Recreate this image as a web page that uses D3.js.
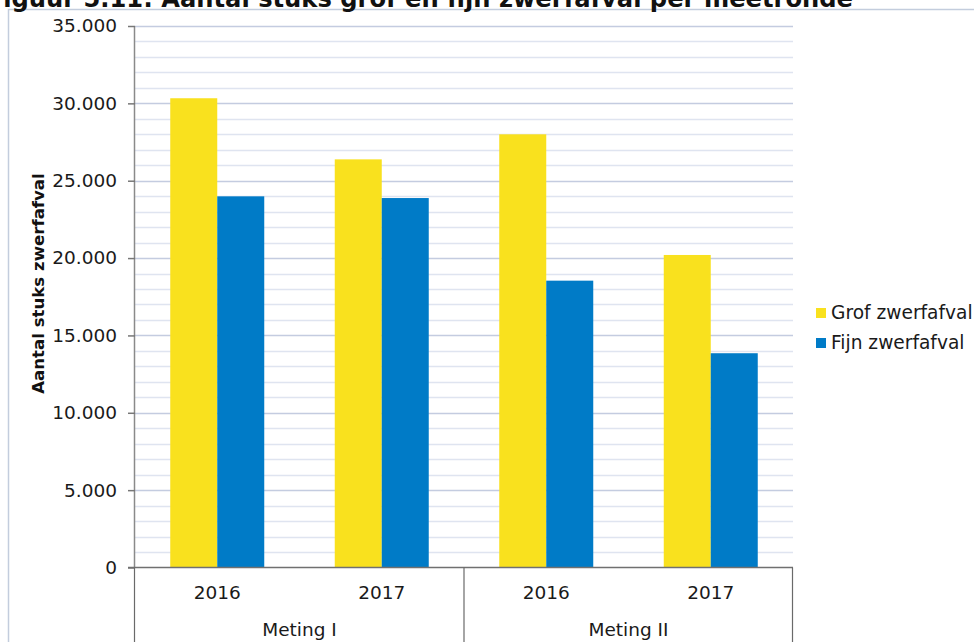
<!DOCTYPE html>
<html><head><meta charset="utf-8">
<script src="https://cdn.jsdelivr.net/npm/d3@7"></script>
<style>html,body{margin:0;padding:0;background:#fff;}svg{display:block;}</style>
</head><body>
<svg id="c" width="974" height="642"></svg>
<script>
const groups = ["Meting I", "Meting II"];
const years = ["2016", "2017"];
const categories = ["Meting I|2016", "Meting I|2017", "Meting II|2016", "Meting II|2017"];
const seriesNames = ["Grof zwerfafval", "Fijn zwerfafval"];
const grof = [30330, 26380, 28000, 20200];
const fijn = [23990, 23880, 18540, 13850];
const yTicks = [0, 5000, 10000, 15000, 20000, 25000, 30000, 35000];
const colors = ["#F9E11E", "#007BC7"];
const title = "Figuur 5.11: Aantal stuks grof en fijn zwerfafval per meetronde";
const yLabel = "Aantal stuks zwerfafval";

const svg = d3.select("#c");
const font = "'DejaVu Sans', Verdana, sans-serif";
const L = 135, R = 793, T = 26, B = 567.5;

// outer frame
svg.append("rect").attr("x", 8.5).attr("y", 9.5).attr("width", 1000).attr("height", 700)
  .attr("fill", "none").attr("stroke", "#c3cddd").attr("stroke-width", 1.5);

// title (cut off at top in reference)
svg.append("text").attr("x", 853).attr("y", 6.5).attr("text-anchor", "end")
  .attr("font-family", font).attr("font-weight", "bold").attr("font-size", 24.2)
  .attr("fill", "#111").text(title);

const y = d3.scaleLinear().domain([0, 35000]).range([B, T]);
const x0 = d3.scaleBand().domain(categories).range([L, R]).padding(0);
const x1 = d3.scaleBand().domain(seriesNames).range([0, x0.bandwidth()]).paddingInner(0).paddingOuter(0.75);

// gridlines
const minor = d3.range(1000, 35001, 1000);
svg.append("g").selectAll("line").data(minor).join("line")
  .attr("x1", L).attr("x2", R).attr("y1", d => Math.round(y(d)) + 0.5).attr("y2", d => Math.round(y(d)) + 0.5)
  .attr("stroke", d => d % 5000 === 0 ? "#c4cce0" : "#dfe4f0").attr("stroke-width", 1.5);

// bars
const data = categories.map((c, i) => ({c, vals: [grof[i], fijn[i]]}));
const g = svg.append("g");
data.forEach(d => {
  seriesNames.forEach((s, j) => {
    g.append("rect").attr("x", x0(d.c) + x1(s)).attr("width", x1.bandwidth())
      .attr("y", y(d.vals[j])).attr("height", B - y(d.vals[j])).attr("fill", colors[j]);
  });
});

// y axis
const yAxis = d3.axisLeft(y).tickValues(yTicks).tickSize(7).tickPadding(11)
  .tickFormat(d => d3.format(",")(d).replace(/,/g, "."));
const ya = svg.append("g").attr("transform", `translate(${L},0)`).call(yAxis);
ya.select(".domain").attr("stroke", "#8a8a8a").attr("stroke-width", 1.5).attr("d", `M-0.5,${T}V${B}`);
ya.selectAll(".tick line").attr("stroke", "#777").attr("stroke-width", 1.5);
ya.selectAll(".tick text").attr("font-family", font).attr("font-size", 18.5).attr("fill", "#1a1a1a");

// x baseline
svg.append("line").attr("x1", 128).attr("x2", R).attr("y1", B).attr("y2", B)
  .attr("stroke", "#707070").attr("stroke-width", 1.5);
// vertical separators
[L, (L + R) / 2 + 0.5, R].forEach(xv => {
  svg.append("line").attr("x1", xv - 0.5).attr("x2", xv - 0.5).attr("y1", B).attr("y2", 642)
    .attr("stroke", "#6a6a6a").attr("stroke-width", 1.2);
});

// year labels
svg.append("g").selectAll("text").data(categories).join("text")
  .attr("x", d => x0(d) + x0.bandwidth() / 2).attr("y", 599).attr("text-anchor", "middle")
  .attr("font-family", font).attr("font-size", 18.5).attr("fill", "#1a1a1a")
  .text(d => d.split("|")[1]);
// group labels
svg.append("g").selectAll("text").data(groups).join("text")
  .attr("x", (d, i) => x0(categories[i * 2]) + x0.bandwidth()).attr("y", 636).attr("text-anchor", "middle")
  .attr("font-family", font).attr("font-size", 18.5).attr("fill", "#1a1a1a")
  .text(d => d);

// y label
svg.append("text").attr("transform", "translate(43.5,283.5) rotate(-90)").attr("text-anchor", "middle")
  .attr("font-family", font).attr("font-weight", "bold").attr("font-size", 16.6).attr("fill", "#111")
  .text(yLabel);

// legend
const lg = svg.append("g");
seriesNames.forEach((s, j) => {
  lg.append("rect").attr("x", 816).attr("y", 308 + j * 30).attr("width", 10).attr("height", 10).attr("fill", colors[j]);
  lg.append("text").attr("x", 831).attr("y", 319 + j * 30).attr("font-family", font).attr("font-size", 18.6)
    .attr("fill", "#1a1a1a").text(s);
});
</script>
</body></html>
